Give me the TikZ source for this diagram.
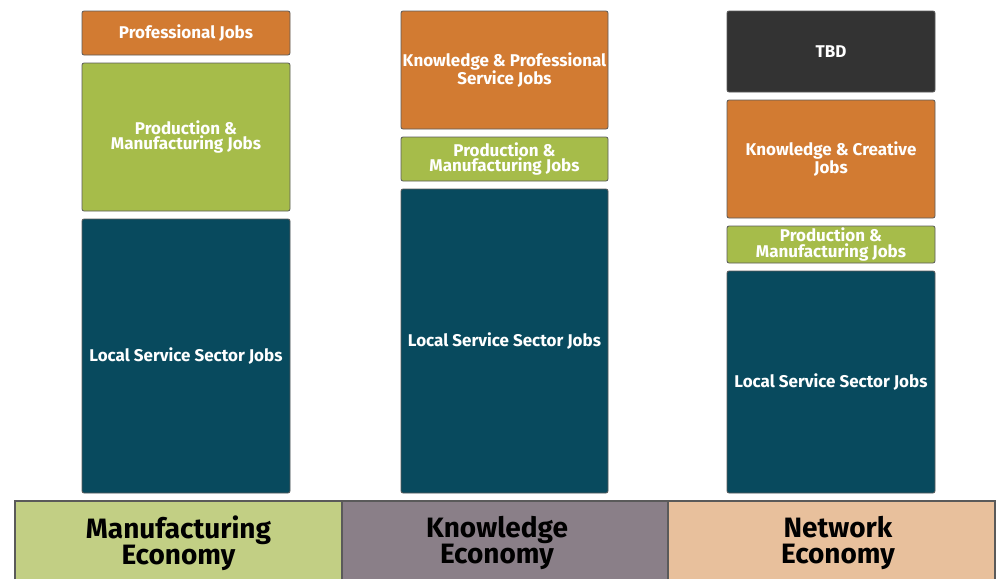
\documentclass[tikz,border=0pt]{standalone}
\usepackage{fontspec}
\setmainfont{Fira Sans}
\definecolor{orangebox}{HTML}{D27B32}
\definecolor{greenbox}{HTML}{A6BC4A}
\definecolor{tealbox}{HTML}{084A5E}
\definecolor{darkbox}{HTML}{333333}
\definecolor{bandgreen}{HTML}{C2CF84}
\definecolor{bandgray}{HTML}{8A7F88}
\definecolor{bandtan}{HTML}{E8C09C}
\definecolor{edgegray}{HTML}{5A5A5A}
\tikzset{
  jobbox/.style={draw=edgegray, line width=0.8pt, rounded corners=2pt, text=white,
    font=\fontsize{17}{15.5}\selectfont\bfseries, align=center, inner sep=0pt},
  band/.style={draw=edgegray, line width=1.2pt},
  bandtext/.style={font=\fontsize{28}{26}\selectfont\bfseries, align=center, text=black}
}
\newcommand{\jb}[6]{%
  \path[jobbox, fill=#6] (#2,#3) rectangle (#4,#5);
  \node[jobbox, draw=none, fill=none] (#1) at ({(#2+#4)/2},{(#3+#5)/2}) {\jbtext};
}
\begin{document}
\begin{tikzpicture}[x=1pt,y=-1pt]
\useasboundingbox (0,0) rectangle (998,579);
% column 1
\def\jbtext{Professional Jobs}\jb{c1a}{82}{11}{290}{55}{orangebox}
\def\jbtext{Production \&\\Manufacturing Jobs}\jb{c1b}{82}{63}{290}{211}{greenbox}
\def\jbtext{Local Service Sector Jobs}\jb{c1c}{82}{219}{290}{493}{tealbox}
% column 2
\def\jbtext{Knowledge \& Professional\\Service Jobs}\jb{c2a}{401}{11}{608}{129}{orangebox}
\def\jbtext{Production \&\\Manufacturing Jobs}\jb{c2b}{401}{137}{608}{181}{greenbox}
\def\jbtext{Local Service Sector Jobs}\jb{c2c}{401}{189}{608}{493}{tealbox}
% column 3
\def\jbtext{TBD}\jb{c3a}{727}{11}{935}{92}{darkbox}
\def\jbtext{Knowledge \& Creative\\Jobs}\jb{c3b}{727}{100}{935}{218}{orangebox}
\def\jbtext{Production \&\\Manufacturing Jobs}\jb{c3c}{727}{226}{935}{263}{greenbox}
\def\jbtext{Local Service Sector Jobs}\jb{c3d}{727}{271}{935}{493}{tealbox}
% bands
\fill[bandgreen] (15,501) rectangle (342,579);
\fill[bandgray] (342,501) rectangle (668,579);
\fill[bandtan] (668,501) rectangle (995,579);
\draw[band] (15,579) -- (15,501) -- (995,501) -- (995,579);
\draw[band] (342,501) -- (342,579);
\draw[band] (668,501) -- (668,579);
\node[bandtext] (b1) at (178.5,543) {Manufacturing\\Economy};
\node[bandtext] (b2) at (497,543) {Knowledge\\Economy};
\node[bandtext] (b3) at (838,543) {Network\\Economy};
\end{tikzpicture}
\end{document}
